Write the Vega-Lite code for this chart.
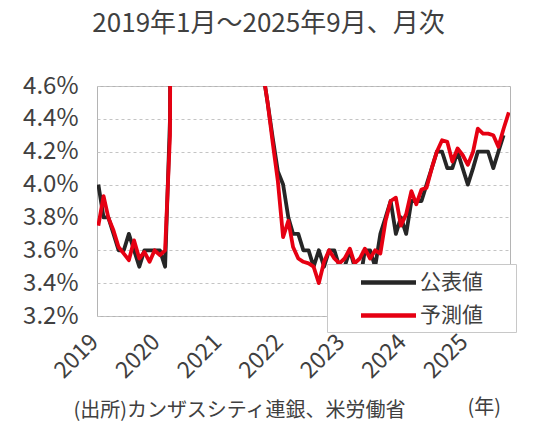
{
  "$schema": "https://vega.github.io/schema/vega-lite/v6.json",
  "width": 413,
  "height": 230,
  "autosize": "none",
  "padding": {"left": 97, "top": 86, "right": 30, "bottom": 116},
  "background": "white",
  "config": {
    "font": "Noto Sans CJK JP",
    "view": {"stroke": "#b4b4b4", "strokeWidth": 1}
  },
  "title": {
    "text": "2019年1月～2025年9月、月次",
    "fontSize": 26,
    "fontWeight": "normal",
    "color": "#404040",
    "anchor": "middle",
    "dx": -35,
    "offset": 37
  },
  "data": {
    "values": [
      {"month": "2019-01", "公表値": 4.0, "予測値": 3.75},
      {"month": "2019-02", "公表値": 3.8, "予測値": 3.93},
      {"month": "2019-03", "公表値": 3.8, "予測値": 3.8},
      {"month": "2019-04", "公表値": 3.7, "予測値": 3.72},
      {"month": "2019-05", "公表値": 3.6, "予測値": 3.62},
      {"month": "2019-06", "公表値": 3.6, "予測値": 3.58},
      {"month": "2019-07", "公表値": 3.7, "予測値": 3.54},
      {"month": "2019-08", "公表値": 3.6, "予測値": 3.66},
      {"month": "2019-09", "公表値": 3.5, "予測値": 3.55},
      {"month": "2019-10", "公表値": 3.6, "予測値": 3.59},
      {"month": "2019-11", "公表値": 3.6, "予測値": 3.53},
      {"month": "2019-12", "公表値": 3.6, "予測値": 3.6},
      {"month": "2020-01", "公表値": 3.6, "予測値": 3.57},
      {"month": "2020-02", "公表値": 3.5, "予測値": 3.6},
      {"month": "2020-03", "公表値": 4.4, "予測値": 4.3},
      {"month": "2020-04", "公表値": 14.8, "予測値": 14.0},
      {"month": "2020-05", "公表値": 13.2, "予測値": 13.0},
      {"month": "2020-06", "公表値": 11.0, "予測値": 11.2},
      {"month": "2020-07", "公表値": 10.2, "予測値": 10.0},
      {"month": "2020-08", "公表値": 8.4, "予測値": 8.6},
      {"month": "2020-09", "公表値": 7.8, "予測値": 7.9},
      {"month": "2020-10", "公表値": 6.9, "予測値": 7.0},
      {"month": "2020-11", "公表値": 6.7, "予測値": 6.6},
      {"month": "2020-12", "公表値": 6.7, "予測値": 6.6},
      {"month": "2021-01", "公表値": 6.4, "予測値": 6.3},
      {"month": "2021-02", "公表値": 6.2, "予測値": 6.1},
      {"month": "2021-03", "公表値": 6.1, "予測値": 6.0},
      {"month": "2021-04", "公表値": 6.1, "予測値": 6.0},
      {"month": "2021-05", "公表値": 5.8, "予測値": 5.8},
      {"month": "2021-06", "公表値": 5.9, "予測値": 5.8},
      {"month": "2021-07", "公表値": 5.4, "予測値": 5.5},
      {"month": "2021-08", "公表値": 5.1, "予測値": 5.1},
      {"month": "2021-09", "公表値": 4.7, "予測値": 4.7},
      {"month": "2021-10", "公表値": 4.5, "予測値": 4.5},
      {"month": "2021-11", "公表値": 4.28, "予測値": 4.25},
      {"month": "2021-12", "公表値": 4.08, "予測値": 4.02},
      {"month": "2022-01", "公表値": 4.0, "予測値": 3.68},
      {"month": "2022-02", "公表値": 3.8, "予測値": 3.78},
      {"month": "2022-03", "公表値": 3.7, "予測値": 3.62},
      {"month": "2022-04", "公表値": 3.7, "予測値": 3.55},
      {"month": "2022-05", "公表値": 3.6, "予測値": 3.53},
      {"month": "2022-06", "公表値": 3.6, "予測値": 3.52},
      {"month": "2022-07", "公表値": 3.5, "予測値": 3.5},
      {"month": "2022-08", "公表値": 3.6, "予測値": 3.4},
      {"month": "2022-09", "公表値": 3.5, "予測値": 3.53},
      {"month": "2022-10", "公表値": 3.6, "予測値": 3.6},
      {"month": "2022-11", "公表値": 3.6, "予測値": 3.55},
      {"month": "2022-12", "公表値": 3.5, "予測値": 3.52},
      {"month": "2023-01", "公表値": 3.5, "予測値": 3.55},
      {"month": "2023-02", "公表値": 3.6, "予測値": 3.61},
      {"month": "2023-03", "公表値": 3.5, "予測値": 3.52},
      {"month": "2023-04", "公表値": 3.4, "予測値": 3.55},
      {"month": "2023-05", "公表値": 3.6, "予測値": 3.61},
      {"month": "2023-06", "公表値": 3.6, "予測値": 3.55},
      {"month": "2023-07", "公表値": 3.5, "予測値": 3.6},
      {"month": "2023-08", "公表値": 3.7, "予測値": 3.58},
      {"month": "2023-09", "公表値": 3.8, "予測値": 3.78},
      {"month": "2023-10", "公表値": 3.9, "予測値": 3.9},
      {"month": "2023-11", "公表値": 3.7, "予測値": 3.92},
      {"month": "2023-12", "公表値": 3.8, "予測値": 3.75},
      {"month": "2024-01", "公表値": 3.7, "予測値": 3.82},
      {"month": "2024-02", "公表値": 3.9, "予測値": 3.96},
      {"month": "2024-03", "公表値": 3.9, "予測値": 3.88},
      {"month": "2024-04", "公表値": 3.9, "予測値": 3.97},
      {"month": "2024-05", "公表値": 4.0, "予測値": 3.98},
      {"month": "2024-06", "公表値": 4.1, "予測値": 4.1},
      {"month": "2024-07", "公表値": 4.2, "予測値": 4.2},
      {"month": "2024-08", "公表値": 4.2, "予測値": 4.27},
      {"month": "2024-09", "公表値": 4.1, "予測値": 4.26},
      {"month": "2024-10", "公表値": 4.1, "予測値": 4.14},
      {"month": "2024-11", "公表値": 4.2, "予測値": 4.22},
      {"month": "2024-12", "公表値": 4.1, "予測値": 4.18},
      {"month": "2025-01", "公表値": 4.0, "予測値": 4.12},
      {"month": "2025-02", "公表値": 4.1, "予測値": 4.2},
      {"month": "2025-03", "公表値": 4.2, "予測値": 4.34},
      {"month": "2025-04", "公表値": 4.2, "予測値": 4.31},
      {"month": "2025-05", "公表値": 4.2, "予測値": 4.31},
      {"month": "2025-06", "公表値": 4.1, "予測値": 4.3},
      {"month": "2025-07", "公表値": 4.2, "予測値": 4.23},
      {"month": "2025-08", "公表値": 4.3, "予測値": 4.34},
      {"month": "2025-09", "公表値": null, "予測値": 4.44}
    ]
  },
  "transform": [
    {"fold": ["公表値", "予測値"], "as": ["series", "value"]}
  ],
  "mark": {"type": "line", "clip": true, "strokeWidth": 3.8, "strokeJoin": "round"},
  "encoding": {
    "x": {
      "field": "month",
      "type": "temporal",
      "scale": {
        "type": "utc",
        "domain": [
          {"year": 2018, "month": 12, "date": 24, "utc": true},
          {"year": 2025, "month": 9, "date": 8, "utc": true}
        ]
      },
      "axis": {
        "values": [
          {"year": 2019, "month": 1, "date": 1, "utc": true},
          {"year": 2020, "month": 1, "date": 1, "utc": true},
          {"year": 2021, "month": 1, "date": 1, "utc": true},
          {"year": 2022, "month": 1, "date": 1, "utc": true},
          {"year": 2023, "month": 1, "date": 1, "utc": true},
          {"year": 2024, "month": 1, "date": 1, "utc": true},
          {"year": 2025, "month": 1, "date": 1, "utc": true}
        ],
        "format": "%Y",
        "grid": false,
        "ticks": false,
        "tickSize": 0,
        "domain": false,
        "labelAngle": -45,
        "labelAlign": "right",
        "labelBaseline": "middle",
        "labelFontSize": 23,
        "labelColor": "#404040",
        "labelPadding": 22,
        "labelOffset": -4,
        "labelOverlap": false,
        "title": "(出所)カンザスシティ連銀、米労働省",
        "titleFontSize": 20,
        "titleFontWeight": "normal",
        "titleColor": "#404040",
        "titleAlign": "left",
        "titleAnchor": "start",
        "titleBaseline": "middle",
        "titleX": -24,
        "titleY": 94
      }
    },
    "y": {
      "field": "value",
      "type": "quantitative",
      "scale": {"domain": [3.2, 4.6], "nice": false, "zero": false},
      "axis": {
        "values": [3.2, 3.4, 3.6, 3.8, 4.0, 4.2, 4.4, 4.6],
        "labelExpr": "format(datum.value, '.1f') + '%'",
        "grid": true,
        "gridDash": [3, 3],
        "gridColor": "#c4c4c4",
        "gridWidth": 1,
        "ticks": false,
        "tickSize": 0,
        "domain": false,
        "labelFontSize": 24,
        "labelColor": "#404040",
        "labelPadding": 19,
        "title": "(年)",
        "titleAngle": 0,
        "titleFontSize": 20,
        "titleFontWeight": "normal",
        "titleColor": "#404040",
        "titleAlign": "left",
        "titleBaseline": "middle",
        "titleX": 370,
        "titleY": 321
      }
    },
    "color": {
      "field": "series",
      "type": "nominal",
      "scale": {"domain": ["公表値", "予測値"], "range": ["#262626", "#e60012"]},
      "legend": {
        "title": null,
        "orient": "none",
        "legendX": 230,
        "legendY": 178,
        "direction": "vertical",
        "fillColor": "white",
        "strokeColor": "#c8c8c8",
        "padding": 6,
        "symbolType": "M-6.15,0M10.85,0M-3.15,0H2.35",
        "symbolSize": 400,
        "symbolStrokeWidth": 4.5,
        "symbolOffset": 47,
        "labelOffset": 15,
        "labelFontSize": 21,
        "labelColor": "#404040",
        "rowPadding": 10,
        "zindex": 1
      }
    }
  }
}
